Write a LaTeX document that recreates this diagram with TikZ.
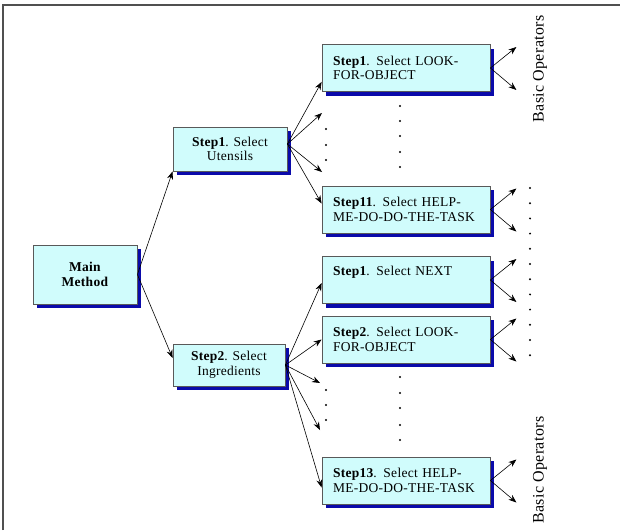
\documentclass[tikz,border=0pt]{standalone}
\usepackage{fontspec}
\setmainfont{Liberation Serif}[LetterSpace=2]
\usetikzlibrary{arrows.meta,shadows}

\definecolor{boxfill}{RGB}{208,252,252}
\definecolor{shadowblue}{RGB}{10,10,170}
\definecolor{framegray}{RGB}{80,80,80}

\tikzset{
  box/.style={draw=black!65,fill=boxfill,line width=0.8pt,rectangle,
    drop shadow={shadow xshift=4pt,shadow yshift=-4pt,fill=shadowblue,opacity=1},
    font=\fontsize{13.5}{14.5}\selectfont},
  substep/.style={box,minimum width=168pt,minimum height=47pt,text width=146pt,inner xsep=11pt,align=left},
  method/.style={box,align=center,inner sep=2pt},
  opslabel/.style={rotate=90,font=\fontsize{16}{18}\selectfont,inner sep=0pt},
}

\begin{document}
\begin{tikzpicture}[x=1pt,y=-1pt,->,>={Stealth[length=8pt,width=6pt]},semithick]
            \useasboundingbox (0,0) rectangle (620,530);
            \draw[-,framegray,line width=1.5pt] (3,530) -- (3,5) -- (620,5);
            % methods
            \node[method,minimum width=104pt,minimum height=59pt](main)at(85, 274.5){\textbf{Main}\\\textbf{Method}};
            \node[method,minimum width=114pt,minimum height=44pt](uten)at(230, 149){\textbf{Step1}. Select\\Utensils};
            \node[method,minimum width=112pt,minimum height=42pt](ingr)at(229, 365){\textbf{Step2}. Select\\Ingredients};
            % sub steps
            \node[substep](lookA)at(406, 68){\textbf{Step1}. Select LOOK-\\FOR-OBJECT};
            \node[substep](helpA)at(406, 209.5){\textbf{Step11}. Select HELP-\\ME-DO-DO-THE-TASK};
            \node[substep](nextA)at(406, 280){\textbf{Step1}. Select NEXT\\\strut};
            \node[substep](lookB)at(406, 339.5){\textbf{Step2}. Select LOOK-\\FOR-OBJECT};
            \node[substep](helpB)at(406, 480.5){\textbf{Step13}. Select HELP-\\ME-DO-DO-THE-TASK};
            \node[opslabel](opsA)at(540, 69){Basic Operators};
            \node[opslabel](opsB)at(540, 470){Basic Operators};
            \coordinate (utenX)at(322, 113);
            \coordinate (utenY)at(322, 172);
            \coordinate (ingrX)at(320, 383);
            \coordinate (ingrY)at(320, 430);
            \path[](main.east) edge (uten.south west)
            (main.east) edge ([yshift=7pt]ingr.west)
            ([yshift=5pt]uten.east) edge ([yshift=10pt]lookA.south west)
            ([yshift=5pt]uten.east) edge (utenX)
            ([yshift=5pt]uten.east) edge (utenY)
            ([yshift=5pt]uten.east) edge ([yshift=6pt]helpA.west)
            (ingr.east) edge ([yshift=-3pt]nextA.west)
            (ingr.east) edge (lookB.west)
            (ingr.east) edge (ingrX)
            (ingr.east) edge (ingrY)
            (ingr.east) edge ([yshift=-7pt]helpB.west);
            \foreach \b in {lookA,helpA,nextA,lookB,helpB}{
              \coordinate (\b-up)at([shift={(26,-21)}]\b.east);
              \coordinate (\b-down)at([shift={(26,22)}]\b.east);
              \path (\b.east) edge (\b-up) (\b.east) edge (\b-down);
            }
            % dots
            \foreach \y in {106,121,136,152,167,377,393,408,425,440}
              \fill (400,\y) circle (1.1);
            \foreach \y in {129,145,160,390,405,420}
              \fill (326,\y) circle (1.1);
            \foreach \k in {0,...,11}
              \fill (530,188+15.2*\k) circle (1.1);
        \end{tikzpicture}
\end{document}
